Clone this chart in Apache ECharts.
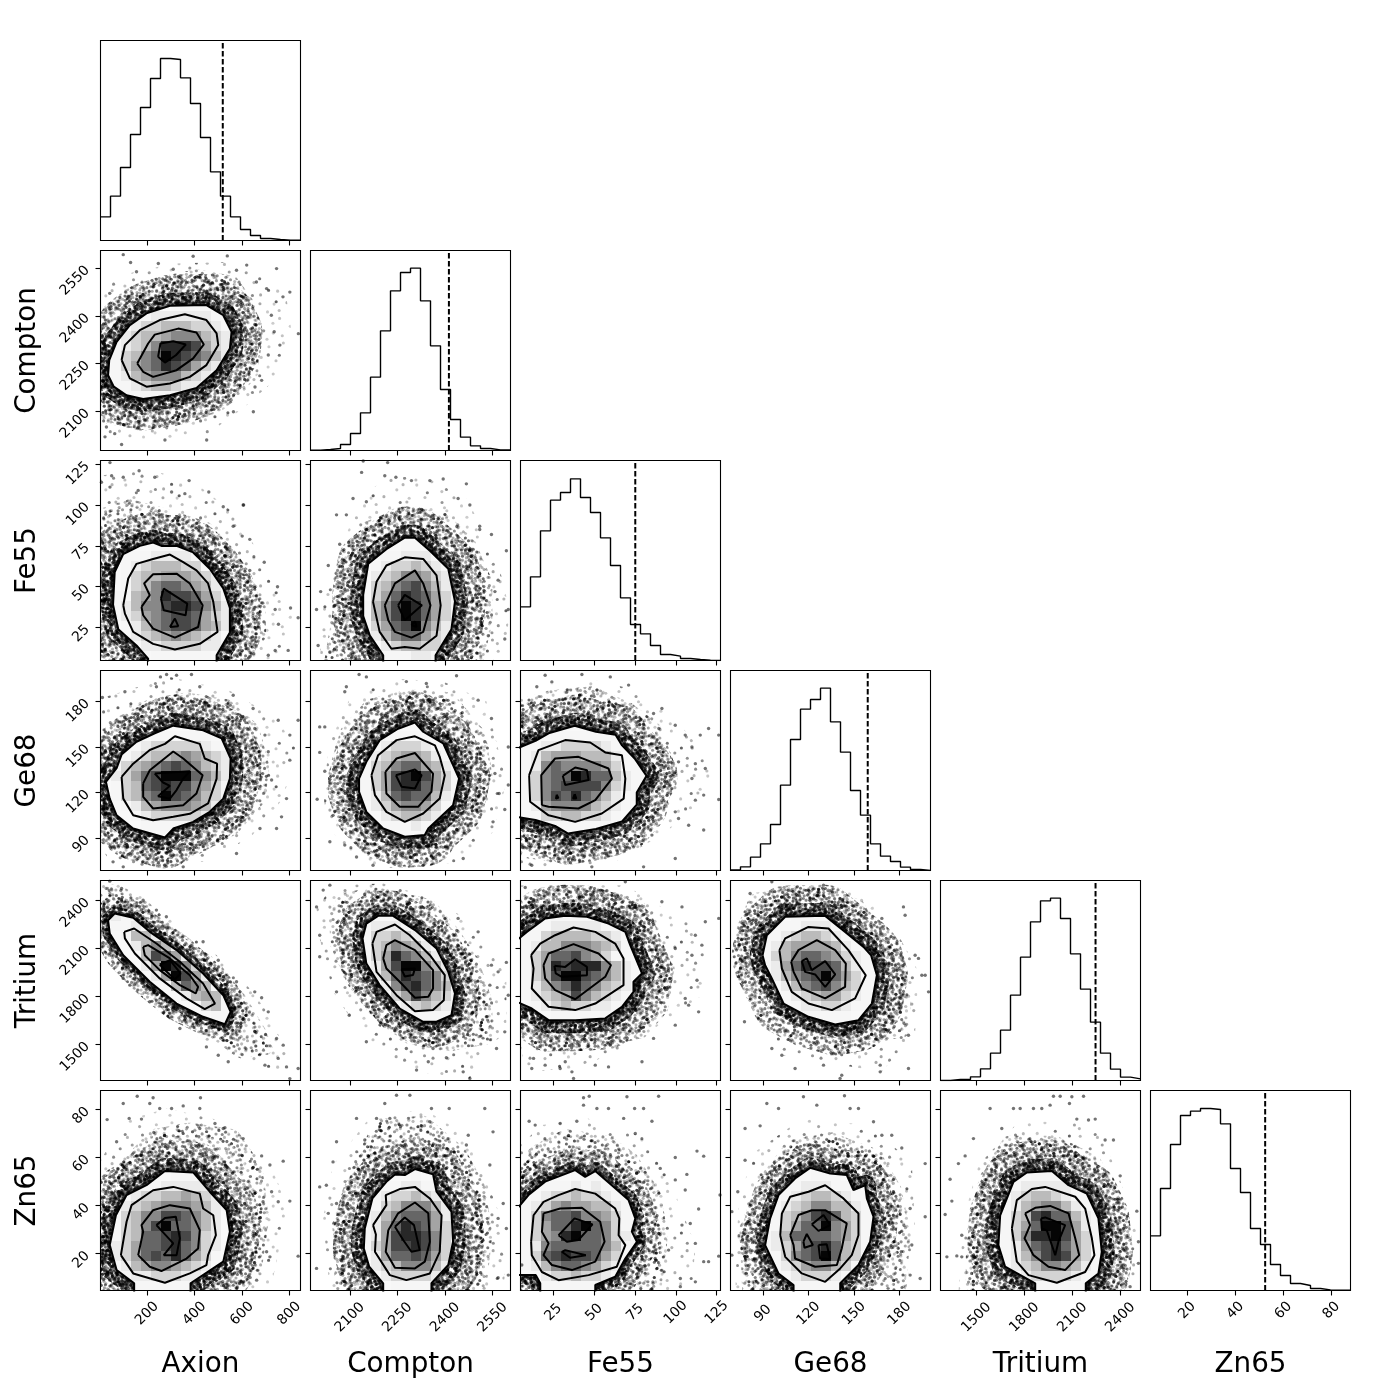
<!DOCTYPE html>
<html><head><meta charset="utf-8">
<script src="https://cdn.jsdelivr.net/npm/echarts@6/dist/echarts.min.js"></script>
<style>html,body{margin:0;padding:0;background:#fff}#c{width:1390px;height:1390px}</style></head>
<body><div id="c"></div>
<script>
const names=['Axion','Compton','Fe55','Ge68','Tritium','Zn65'];
const ranges=[[3,847],[1976,2606],[4.8,127.3],[68.7,200.3],[1275,2525],[4.7,87.9]];
const ticks=[[200,400,600,800],[2100,2250,2400,2550],[25,50,75,100,125],[90,120,150,180],[1500,1800,2100,2400],[20,40,60,80]];
const truths=[519,2412,75.1,159,2244,52.4];
const histAxion=[71,133,219,318,399,486,546,543,488,411,309,206,133,71,33,15,6,3,1,1];
const histCompton=[1,3,6,18,51,113,220,359,479,534,547,449,314,183,93,40,14,6,2,2];
const histFe55=[161,251,389,481,504,545,489,444,368,285,188,108,80,45,18,13,6,3,1,0];
const histGe68=[2,11,40,80,138,256,393,484,513,547,446,355,240,166,80,43,27,10,3,0];
const histTritium=[0,3,3,11,35,82,151,256,370,476,539,547,486,380,274,175,82,34,10,5];
const histZn65=[164,306,438,525,538,546,543,500,366,294,186,138,78,45,21,15,6,2,1,1];
const hists=[histAxion,histCompton,histFe55,histGe68,histTritium,histZn65];

// Axion vs Compton
const AC_lines=[
[[40,2261],[71,2318],[127,2371],[197,2408],[296,2432],[450,2434],[521,2402],[556,2350],[549,2297],[493,2229],[408,2173],[296,2150],[183,2138],[113,2150],[59,2177],[35,2213]],
[[92,2261],[106,2308],[169,2355],[253,2387],[359,2405],[450,2387],[493,2345],[500,2308],[450,2245],[380,2208],[296,2187],[197,2177],[127,2203]],
[[158,2250],[204,2313],[232,2341],[331,2360],[408,2348],[439,2310],[394,2266],[324,2229],[225,2208],[183,2224]],
[[246,2271],[256,2313],[310,2320],[363,2310],[321,2276],[275,2253]]];
const AC_cells="5 7 0000;6 3 0011111100;7 2 01223332210;8 2 123345553210;9 1 012358887421;10 1 0235698765310;11 1 02456876421;12 1 0134555321;13 1 0012332110;14 2 000000";
const AC_cloud=[[3,2397],[99,2450],[239,2502],[406,2528],[560,2507],[631,2434],[645,2308],[645,2224],[575,2161],[505,2119],[352,2077],[183,2056],[42,2077],[3,2108]];
const AC_halo=[[3,2486],[127,2534],[310,2565],[549,2570],[704,2528],[788,2455],[816,2318],[715,2182],[603,2108],[448,2024],[211,2003],[42,2019],[3,2045]];
const AC_dots=[[99,2593],[247,2565],[394,2588],[538,2589],[746,2549],[802,2475],[838,2344],[724,2402],[760,2308],[711,2277],[683,2197],[655,2176],[648,2098],[564,2098],[451,2009],[275,2009],[92,1995],[28,2050],[22,2019],[63,2029],[155,2539],[130,2568],[310,2547],[577,2544],[661,2507],[42,2471],[704,2486],[620,2560],[773,2460],[736,2350]];
// Axion vs Fe55
const AF_lines=[
[[204,3],[204,6],[155,14],[78,24],[56,39],[63,59],[99,70],[169,75],[225,77],[260,75],[324,75],[394,71],[464,61],[521,49],[549,37],[549,22],[493,8],[493,3]],
[[99,38.6],[120,55],[155,64],[225,67],[296,69.7],[352,65],[408,60],[457,52],[479,40.7],[497,22.3],[422,15],[317,11.5],[225,15],[141,22.3],[106,33.5]],
[[176,37.6],[211,44.8],[187,52],[225,57.6],[324,58],[380,52],[434,38.6],[415,25.3],[317,18.8],[225,24.3],[183,32.5]],
[[258,42.7],[270,48.8],[369,39.6],[362,32.5],[270,35.6]],
[[296,25.3],[317,30.5],[331,25.8]]];
const AF_cells="8 5 0000;9 2 000111100;10 2 012333220;11 2 0233444321;12 2 02356654310;13 1 00345877642 0;14 1 01355788753 1;15 1 0124567764 21;16 2 0135677643 1;17 2 0123454321;18 3 0112222110;19 5 000000";
const AF_cloud=[[3,94],[127,100],[281,94],[450,86],[549,69],[633,53],[676,37],[676,20],[619,8],[560,3],[3,3]];
const AF_halo=[[3,118],[169,122],[380,116],[577,94],[661,73],[746,49],[816,32],[774,8],[647,3],[3,3]];
const AF_dots=[[43,126],[50,118],[166,121],[232,117],[377,115],[460,108],[359,107],[607,100],[521,99],[563,87],[601,81],[633,79],[694,65],[633,60],[750,50],[687,40],[805,37],[740,36],[837,31],[754,27],[795,11],[711,8],[740,11],[99,117],[43,111],[162,109],[303,108],[605,100],[7,114],[661,30]];
// Compton vs Fe55
const CF_lines=[
[[2205,3],[2205,8],[2163,20],[2142,32],[2142,45],[2158,64],[2215,73],[2273,80],[2305,80],[2352,72],[2410,61],[2431,41],[2420,24],[2370,8],[2370,3]],
[[2173,40.7],[2184,53],[2215,63],[2273,68],[2331,67],[2373,57],[2386,38.6],[2373,20],[2320,12],[2273,13],[2231,12],[2194,22.3]],
[[2210,38.6],[2242,52],[2305,60],[2331,52],[2354,38.6],[2331,22.3],[2294,18.8],[2242,22.3],[2221,29.4]],
[[2252,38.6],[2273,45],[2327,38.6],[2273,29.4]],
[[2294,26.4],[2305,28.8],[2310,25.4]]];
const CF_cells="8 9 00;9 7 0011100;10 6 012232100;11 6 123554210;12 6 235675310;13 6 246876420;14 5 0357986420;15 5 0357986420;16 5 0246795310;17 6 13566421;18 7 12332210;19 7 00011000";
const CF_cloud=[[2037,3],[2063,32],[2079,63],[2152,86],[2278,96],[2394,92],[2478,76],[2530,53],[2530,28],[2499,3]];
const CF_halo=[[2005,3],[2016,41],[2068,73],[2142,106],[2226,118],[2352,116],[2467,104],[2562,69],[2604,35],[2583,3]];
const CF_dots=[[2142,127],[2219,126],[2137,120],[2210,118],[2245,117],[2294,115],[2352,115],[2467,113],[2441,104],[2110,104],[2058,94],[2509,87],[2546,82],[2068,76],[2593,72],[2032,63],[2008,47],[1995,36],[2567,54],[2557,47],[2599,36],[2588,18],[2536,20],[2037,10],[2000,14],[2478,100],[2152,102],[2509,85],[2394,116],[2089,94]];
// Axion vs Ge68
const AG_lines=[
[[26,127],[71,136],[92,145],[155,153.4],[232,159],[310,164],[436,161],[514,155.6],[552,142.4],[549,129.2],[521,116],[464,107.3],[394,100.7],[310,96.3],[275,90.4],[141,96.3],[71,105],[42,116]],
[[92,130.3],[141,139],[211,148],[275,152],[317,157],[422,152],[443,142.4],[495,139],[493,129.2],[457,112.8],[380,106],[310,104],[225,101.8],[141,105],[99,116]],
[[183,126],[211,134.7],[310,147],[352,142.4],[434,131.4],[408,119.4],[352,111.7],[225,109.5],[183,117.2]],
[[232,132.5],[380,134],[352,129.2],[324,121.6],[296,116],[246,117.6],[296,124.4],[267,126.6]]];
const AG_cells="6 5 000000;7 2 00122222100;8 2 012334543210;9 1 023456765321;10 1 124679996531;11 1 023678775420;12 1 023569765320;13 2 01345554310;14 3 012222210;15 4 0000000";
const AG_cloud=[[3,147],[99,167],[211,177.5],[366,182],[535,177.5],[647,162],[689,138],[675,116],[563,96],[408,83],[211,78.5],[71,85],[3,98.5]];
const AG_halo=[[3,182],[141,188.5],[296,196],[549,187],[746,168.7],[830,148.7],[774,116],[633,90],[436,74.6],[211,70],[42,74.5],[3,85]];
const AG_dots=[[282,197.7],[324,197.2],[256,196.1],[387,197.7],[11,182.5],[106,186.3],[239,189.6],[422,189.6],[563,184],[647,175.3],[753,167.6],[837,167.6],[802,157.8],[711,146.8],[802,141.3],[725,128.2],[788,116],[767,104],[746,96.3],[577,79.9],[99,71.1],[275,72.2],[352,71.1],[183,74.4],[697,157.8],[56,74.4],[647,116],[676,96.3]];
// Compton vs Ge68
const CG_lines=[
[[2129,129.2],[2152,140.2],[2194,154.5],[2252,162],[2305,166],[2331,160],[2394,152.3],[2425,138],[2444,129.2],[2425,111.7],[2347,96.3],[2336,92],[2273,90.9],[2205,96.3],[2152,107.3],[2129,120.5]],
[[2168,131.4],[2189,144.6],[2247,154.5],[2305,157],[2368,151],[2383,143.5],[2399,131.4],[2383,116],[2331,106.2],[2273,100.7],[2215,107.3],[2179,118.3]],
[[2212,133.6],[2247,142.4],[2305,146],[2362,132.5],[2357,120.5],[2315,110.6],[2257,110.6],[2215,119.4]],
[[2245,131.4],[2305,135.2],[2326,131.4],[2305,122.7],[2263,123.8]]];
const CG_cells="6 7 00000;7 6 012221000;8 6 12344310;9 5 0235664310;10 5 02478974200;11 5 02478864200;12 5 01367663100;13 6 12455420;14 7 123321;15 7 000100";
const CG_cloud=[[2058,138],[2089,160],[2163,177.5],[2289,184],[2415,182],[2509,158],[2530,131.4],[2488,105],[2404,85.4],[2278,75.5],[2163,81],[2089,100.7]];
const CG_halo=[[2016,120.5],[2037,153.4],[2100,182],[2226,195],[2394,193],[2530,180],[2593,127],[2551,94],[2436,74],[2205,70],[2089,81],[2026,100.7]];
const CG_dots=[[2129,197.7],[2152,196.1],[2089,189.6],[2084,186.3],[2278,193],[2436,196.8],[2005,163.2],[2021,163.2],[2341,191.7],[2504,180.8],[2525,153.4],[2546,168.7],[2599,150],[2005,146.4],[2021,134],[2557,132.5],[2599,125],[1997,115.6],[2047,105],[2570,119.4],[2588,108.8],[2037,87.6],[2084,85.4],[2121,77.6],[2173,72.2],[2331,72.2],[2457,76.6],[2551,100.7]];
// Fe55 vs Ge68
const FG_lines=[
[[2.6,149],[14,154],[22,159],[38,164],[51,160],[63,158],[67,151],[75,142],[82,131],[76,120],[76,112],[67,101],[51,96],[34,93],[26,98],[14,102],[2.6,104]],
[[10.1,131.4],[15.8,147.9],[32.2,154.5],[47.5,152.9],[56.7,146.4],[66.9,144.6],[69,129.2],[68,116],[54.6,106.2],[38.3,100.7],[22,105],[10.7,113.9]],
[[17.9,111.7],[17.5,131.4],[26,142.4],[40.3,143.5],[58.7,135.8],[60.8,129.2],[50.6,115],[40.3,109.5],[22,110.6]],
[[30.7,131],[38.3,136.5],[45.5,134.7],[46.5,128.2],[32.2,124.9]],
[[27,118.5],[28,116.5],[26.5,116]],[[38,119],[39,116],[37,116]]];
const FG_cells="6 3 0000000;7 0 00112222100;8 0 013444333100;9 0 015655554200 0;10 0 0256698663100;11 0 025677775210;12 0 025768653100;13 0 01455553210;14 0 0022332210;15 3 000000";
const FG_cloud=[[4.8,177.5],[22,183],[48.8,186],[71,175.3],[87.2,162],[95.5,138],[93.4,116],[79,96.3],[58.7,83],[28,77.7],[7.7,81],[4.8,85.4]];
const FG_halo=[[4.8,184],[22,190.6],[46.5,195],[71,188.7],[93.4,175.3],[109.8,155.6],[124,131.4],[111.8,109.5],[91.4,92],[62.8,74.4],[26,70],[4.8,72]];
const FG_dots=[[19.9,197.2],[42.4,197.7],[59.8,196.1],[24,192.8],[14.8,189.6],[71,190.7],[51.6,187.4],[86.3,172],[91.4,175.3],[99.6,164.3],[105.7,157.8],[114.9,157.8],[120,162.1],[126.2,157.8],[109.8,150],[111.9,139],[101.6,140.2],[118,135.8],[109.8,129.2],[117,118.3],[126.2,115.4],[111.9,115],[99.6,107.3],[101.6,102.9],[117,95.3],[107.8,98.5],[99.6,76.6],[80.2,71.1],[48.5,71.1],[19.9,78.8],[11.7,72.2],[85.3,92]];
// Axion vs Tritium
const AT_lines=[
[[35,2277],[63,2319],[141,2292],[211,2204],[324,2090],[436,1944],[521,1808],[552,1704],[528,1627],[436,1673],[324,1756],[211,1892],[99,2058],[42,2194]],
[[103,2204],[145,2225],[239,2131],[338,2017],[436,1881],[486,1756],[443,1721],[366,1788],[253,1913],[148,2069],[106,2163]],
[[183,2110],[204,2121],[296,2038],[380,1933],[415,1860],[405,1819],[338,1871],[253,1965],[190,2058]],
[[253,2000],[296,2027],[341,1944],[317,1906],[275,1965]]];
const AT_cells="3 0 0100;4 1 0010;5 2 0331;6 3 13531;7 4 37641;8 4 149852;9 5 149741;10 7 36530;11 8 13430;12 9 0230;13 11 00";
const AT_cloud=[[3,2475],[85,2454],[183,2371],[338,2142],[479,1996],[591,1788],[676,1579],[704,1475],[591,1454],[479,1579],[310,1704],[155,1933],[3,2163]];
const AT_halo=[[3,2525],[113,2506],[281,2308],[436,2142],[633,1850],[717,1683],[816,1350],[844,1275],[717,1329],[565,1433],[338,1600],[141,1850],[3,2079]];
const AT_dots=[[42,2521],[92,2475],[239,2340],[436,2142],[500,2027],[654,1829],[683,1792],[711,1704],[619,1683],[746,1538],[774,1496],[788,1360],[837,1350],[802,1287],[697,1371],[542,1392],[500,1433],[450,1485],[338,1600],[211,1767],[127,1871],[99,1913],[281,2298],[183,2402],[577,1892],[753,1413]];
// Compton vs Tritium
const CT_lines=[
[[2140,2163],[2152,2256],[2189,2304],[2236,2304],[2305,2215],[2373,2100],[2410,1954],[2431,1819],[2420,1683],[2373,1642],[2331,1642],[2257,1725],[2194,1871],[2152,2006]],
[[2171,2131],[2184,2204],[2242,2250],[2289,2183],[2352,2058],[2399,1933],[2396,1777],[2362,1715],[2305,1708],[2247,1808],[2184,1954]],
[[2205,2038],[2215,2121],[2242,2152],[2305,2090],[2362,1965],[2362,1850],[2347,1798],[2305,1792],[2257,1892],[2215,1975]],
[[2263,1970],[2305,1975],[2299,1935],[2273,1925]]];
const CT_cells="3 6 000;4 5 011100;5 5 0223210;6 5 02354310;7 5 024865310;8 5 0147995310;9 6 1368765200;10 7 15786530;11 7 02475320;12 8 0123210;13 10 0000";
const CT_cloud=[[2053,2287],[2079,2412],[2184,2444],[2352,2371],[2425,2204],[2488,2017],[2530,1767],[2530,1538],[2415,1496],[2289,1538],[2205,1642],[2110,1892],[2058,2121]];
const CT_halo=[[1995,2350],[2047,2496],[2205,2506],[2331,2433],[2467,2287],[2593,1933],[2593,1579],[2520,1454],[2478,1288],[2310,1329],[2152,1517],[2047,1829],[2005,2163]];
const CT_dots=[[2016,2465],[2037,2496],[1995,2360],[2005,2183],[2005,2048],[2058,1829],[2098,1683],[2152,1517],[2504,2204],[2457,2069],[2546,1996],[2567,1954],[2593,2013],[2599,1808],[2588,1579],[2562,1475],[2530,1673],[2478,1288],[2310,1340],[2347,1392],[2404,1417],[2457,1329],[2362,1475],[2278,1475],[2441,2288],[2541,1871]];
// Fe55 vs Tritium
const FT_lines=[
[[2.6,2152],[8.7,2204],[19.9,2288],[32.2,2304],[45.5,2298],[58.7,2256],[69,2204],[72,2121],[79.2,1944],[74,1892],[74,1829],[66.9,1736],[56.7,1663],[38.3,1652],[22,1652],[11.7,1725],[2.6,1767]],
[[11.3,2058],[16.9,2131],[26,2183],[37.3,2231],[50.6,2204],[62.8,2131],[67.9,2038],[67.9,1871],[50.6,1756],[38.3,1715],[22,1736],[11.7,1850],[12.8,1975]],
[[18.9,1996],[22,2069],[37.3,2127],[52.6,2069],[60.2,1996],[56.7,1923],[38.3,1783],[26,1840],[19.9,1913]],
[[25.6,1992],[32.2,1985],[38.3,2033],[45.5,1985],[45.5,1933],[30.1,1923],[26.4,1944]]];
const FT_cells="3 3 0000;4 1 001111100 0;5 0 00233332210;6 0 01335554320;7 0 024667542 0 0;8 0 024878885310;9 0 0247997653100;10 0 013568653210;11 0 01234753210;12 1 01232211 00;13 3 000000";
const FT_cloud=[[4.8,2371],[22,2444],[52.6,2444],[77.1,2371],[85.2,2142],[95.5,1975],[91.4,1725],[79.2,1579],[54.6,1517],[28.1,1496],[4.8,1642]];
const FT_halo=[[4.8,2496],[19.9,2496],[69,2496],[87.2,2381],[107.8,2267],[118,2100],[116,1808],[89.4,1621],[71,1475],[36.3,1350],[7.7,1329],[4.8,1517]];
const FT_dots=[[7.7,2481],[57.7,2461],[69,2517],[91.4,2392],[103.7,2360],[118,2267],[126.2,2288],[115.9,2121],[111.9,2183],[99.6,2100],[109.8,2058],[105.7,1788],[107.8,1746],[113.9,1704],[99.6,1621],[19.9,1465],[12.8,1413],[11.7,1350],[19.9,1371],[37.3,1288],[50.6,1371],[59.8,1496],[36.3,1329],[58.7,1360],[79.2,1392],[29.1,1350],[32.2,1392],[86.3,1538],[112.9,1902]];
// Ge68 vs Tritium
const GT_lines=[
[[89.8,2058],[92.6,2183],[104.7,2298],[131,2304],[144.1,2204],[156.2,2110],[161.2,2058],[165,1933],[161.7,1756],[152.9,1652],[137.6,1625],[120,1673],[103.6,1756],[95.9,1913],[91.5,1996]],
[[100.9,2090],[104.7,2163],[120,2235],[133.2,2225],[146.3,2090],[157.7,1933],[150.7,1788],[135.4,1715],[120,1756],[109,1829],[102.5,1975]],
[[108.6,2017],[113.4,2090],[125.5,2152],[137.6,2090],[144.6,2006],[144.1,1860],[131,1788],[115.6,1850],[110.2,1954]],
[[115.6,2021],[118.9,2038],[122.2,1965],[131,2021],[137.6,1938],[131,1860],[124.4,1938],[117.8,1954]]];
const GT_cells="3 6 0000;4 4 00011100 ;5 3 00123321 00;6 3 01344443 100;7 3 02356654 210;8 3 01468776 310;9 4 1356796 42 00;10 5 1356753 20;11 5 01234421 0;12 6 011221 00;13 7 00000";
const GT_cloud=[[78.4,2246],[85,2412],[120,2454],[152.9,2371],[161.7,2204],[179.2,2038],[183.6,1767],[181.4,1579],[146.3,1538],[115.6,1642],[93.7,1808],[80.5,2017]];
const GT_halo=[[72.9,2142],[80.5,2433],[115.6,2506],[157.3,2433],[179.2,2183],[192.4,1954],[190.2,1579],[168.3,1329],[102.5,1433],[89.3,1662],[74,1892]];
const GT_dots=[[81.6,2444],[95.9,2517],[78.4,2329],[74.4,2121],[74.4,1954],[77.9,1642],[95.9,1475],[102.5,1433],[111.2,1350],[129.9,1371],[141.9,1308],[167.2,1329],[167.2,1371],[185.8,1350],[185.8,1558],[194.6,1933],[196.8,1933],[199,1829],[190.2,2058],[183.6,2308],[182.5,2360],[168.3,2288],[140.8,1288],[192.4,2038],[129.9,2496]];
// Axion vs Zn65
const AZ_lines=[
[[145,3.5],[145,7.7],[71,13.2],[42,23.6],[68,36],[113,44.4],[197,48.5],[275,54.4],[394,53.8],[464,45.8],[535,38.2],[549,29.2],[521,16.7],[383,7.7],[383,3.5]],
[[89,19.4],[113,33.3],[134,40.2],[225,46.4],[310,47.8],[422,45],[436,38.8],[479,36],[490,27.7],[457,19.4],[450,15.3],[380,11.8],[275,7.9],[141,11.8]],
[[162,19.4],[183,29.1],[176,31.9],[225,38.1],[296,40.2],[380,38.8],[422,29.8],[415,22.2],[366,18],[260,12.8],[211,14.6]],
[[239,31.9],[275,34.9],[321,35.4],[338,26.4],[324,19.4],[270,19.4],[310,24.3]]];
const AZ_cells="8 7 000;9 4 00111110;10 2 0122334321 0;11 1 01234555431 0;12 1 02355776531;13 1 0235796653 1;14 1 02366787521;15 0 012466786521;16 1 12467686420;17 1 0134554321;18 2 011222110;19 3 000000";
const AZ_cloud=[[3,47.2],[113,56.9],[225,69.3],[380,72],[563,69.3],[661,55.4],[689,34.7],[661,15.3],[577,3.5],[3,3.5]];
const AZ_halo=[[3,58.2],[85,74.8],[281,80.4],[478,76.2],[619,68],[746,51.3],[802,34.7],[760,23.6],[718,3.5],[3,3.5]];
const AZ_dots=[[158,85.5],[225,84.9],[253,80.4],[211,82.5],[303,80.4],[352,81.5],[422,80.4],[425,84.9],[99,82.5],[31,75.8],[124,76.3],[176,76],[422,72.1],[486,74.2],[528,72.4],[605,67.9],[683,60.7],[718,56.9],[774,58.5],[725,45.8],[753,41.6],[802,41.9],[837,19],[718,18.7],[662,9],[619,18],[71,66.6],[689,41.6],[521,72.1],[704,20.8]];
// Compton vs Zn65
const CZ_lines=[
[[2205,3.5],[2205,7.7],[2161,14.6],[2144,22.2],[2147,30.5],[2171,43],[2215,49.9],[2242,53],[2273,52.7],[2305,55.2],[2362,53],[2373,45.8],[2420,37.5],[2425,25],[2410,15.3],[2357,7.7],[2357,3.5]],
[[2173,31.9],[2215,40.2],[2213,44.4],[2257,46.9],[2305,47.8],[2352,43],[2389,36],[2383,20.8],[2352,11.8],[2278,9],[2226,11.1],[2179,20.8],[2182,28]],
[[2221,29.8],[2252,36.8],[2305,41.3],[2347,36.8],[2352,25],[2336,16.7],[2305,13.9],[2242,14.2],[2213,20.8]],
[[2242,31.2],[2273,35.1],[2302,31.9],[2320,21.5],[2294,20.8],[2268,25.7]]];
const CZ_cells="8 10 0;9 7 001100 0;10 6 01223 2 10;11 6 0235553 1;12 5 01356664 10;13 5 0146876 4 20;14 5 0147887 5 20;15 5 0247787 5 20;16 5 0146676 4 2;17 6 1235553 1;18 6 012222 1;19 8 0000";
const CZ_cloud=[[2074,3.5],[2063,31.9],[2121,55.4],[2194,73.5],[2331,74.9],[2446,62.4],[2509,47.2],[2530,27.7],[2509,3.5]];
const CZ_halo=[[2037,3.5],[2016,34.7],[2047,56.8],[2152,74.9],[2331,80.4],[2467,69.3],[2562,40.2],[2593,19.4],[2583,3.5]];
const CZ_dots=[[2210,82.5],[2247,85.9],[2289,85.9],[2357,80.4],[2413,80.4],[2525,80.4],[2121,76.3],[2184,76.3],[2047,58.2],[2058,66.6],[2147,67.3],[2473,69.3],[2541,56.9],[2005,47.8],[2026,48.5],[2032,36.8],[2058,40.9],[2567,34.7],[2593,30.5],[1995,13.9],[2567,10],[2599,11.1],[2551,70.7],[2467,65.2],[2583,40.9],[2352,74.9],[2226,76.3]];
// Fe55 vs Zn65
const FZ_lines=[
[[2.6,38.6],[9.7,44.4],[19.9,50],[38.3,54.8],[44.4,52],[50.6,54.4],[62.8,47.2],[71,42.3],[75.1,34.7],[73,29.2],[76.1,25],[69,18],[62.8,10.4],[50.6,7],[50.6,3.5],[16.9,3.5],[16.9,7.7],[14.2,11.1],[2.6,11.1]],
[[11.3,25],[12.8,36],[18.9,41.6],[28.1,44.4],[38.3,46.9],[50.6,45],[62.8,38.8],[65.3,34.7],[64.9,27.7],[69,23.6],[63.8,14.6],[46.5,11.1],[28.1,9],[17.9,12.4],[11.7,19.4]],
[[18.9,36.8],[29.1,38.8],[42.4,39.1],[53.6,33.3],[56.3,25],[50.6,16.7],[36.3,13.2],[24,15.3],[18.9,19.4],[22,24.3],[17.9,29.1]],
[[28.1,27.7],[37.9,34.7],[48.9,32.2],[40.3,25.7],[33.2,25]],
[[30.1,20.8],[32.2,21.5],[44.8,19.4],[35.2,18.3]]];
const FZ_cells="8 5 000;9 2 00010100;10 1 01223221 00;11 0 012454433 10;12 0 02566755420;13 0 024668965200;14 0 024589665210;15 0 015666665300;16 0 02678776420;17 0 0135665421 0;18 2 122322 10;19 2 0000000";
const FZ_cloud=[[4.8,55.5],[13.8,62.4],[32.2,69.3],[58.7,66.5],[73,59.6],[87.2,44.4],[91.4,27.7],[87.2,3.5],[4.8,3.5]];
const FZ_halo=[[4.8,65.2],[17.9,73.5],[46.5,76.2],[83.2,67.9],[97.6,48.5],[111.8,23.6],[109.8,3.5],[4.8,3.5]];
const FZ_dots=[[43.4,84.9],[46.9,85.5],[43.4,81.8],[51.6,80.4],[58.7,80.4],[74.7,80.4],[80.2,80.4],[70,85.3],[89.4,85.5],[10.1,75.1],[13.8,73.5],[29.1,74.2],[39.3,75.1],[68,76.3],[85.3,75.1],[75.1,70],[112.9,62.7],[117,60.6],[99.6,60],[106.7,53],[99.6,50.7],[90.4,55.5],[105.7,46.5],[113.9,38.6],[127,44.4],[108.8,32.6],[103.7,31.9],[111.9,24.3],[117,16.7],[126.2,19],[120,16.7],[111.9,8.3],[102.7,9.7],[102.7,6.3],[5.6,15.3],[95.5,21.5],[87.3,18]];
// Ge68 vs Zn65
const GZ_lines=[
[[110.2,3.5],[110.2,7],[100.3,11.8],[91.5,23.6],[94.8,34.7],[100.3,44.4],[111.2,51.3],[121.1,55.7],[134.3,53.4],[145.2,52.7],[149.6,46.5],[157.3,48.5],[158.4,43],[162.8,35.4],[160.6,25],[152.9,15.3],[140.9,7.7],[140.9,3.5]],
[[101.4,27.7],[102.5,36.7],[108,43.7],[120,45.8],[131,48.5],[143,43],[152.9,36.7],[152.9,27.7],[148.5,19.4],[140.9,13.9],[131,8.3],[115.6,11.8],[104.7,18.7]],
[[108,27.7],[113.4,36.1],[122.2,38.1],[131,38.1],[145.2,32.6],[141.9,22.2],[138.7,15.3],[124.4,14.6],[111.2,18],[110.2,23.6]],
[[122.2,32.2],[129.9,36.1],[134.3,31.9],[126.6,29.5]],
[[126.6,23.6],[132,23.9],[134.3,17.8],[127.7,18]],
[[116.7,25],[118.9,28.2],[122.9,23.6],[117.4,22.5]]];
const GZ_cells="8 8 000;9 5 00111000;10 5 012332100;11 4 012355331 0;12 4 0235786320;13 4 0246695 420;14 3 01366665420;15 3 01246786320;16 4 0256796320;17 4 012455320;18 5 012221 0;19 6 00000";
const GZ_cloud=[[80.5,3.5],[78.4,30.5],[93.7,52.7],[109,65],[135.4,67.9],[163.9,61],[177,47.2],[183.6,27.7],[179.2,3.5]];
const GZ_halo=[[71.8,3.5],[74,43],[84.9,62.4],[115.6,76.2],[159.5,73.5],[188,58.2],[190.2,27.7],[183.6,3.5]];
const GZ_dots=[[92.6,82.5],[100.3,80.4],[116.7,85.3],[125.5,81.8],[143.7,85.7],[147.4,80.4],[152.9,80.4],[88.2,73.2],[78.3,72.1],[78.3,58.9],[174.8,69.3],[181.4,64],[196.8,57.5],[73.5,45.8],[69.6,37.5],[186.9,38.8],[196.8,35.4],[78.3,18.7],[188,23.6],[193.5,9.7],[69.6,19.4],[162.8,74.9],[168.3,69.3],[186.9,11.1]];
// Tritium vs Zn65
const TZ_lines=[
[[1867,3.5],[1867,7.7],[1679,14.6],[1637,23.6],[1648,36],[1731,49.9],[1815,53.8],[1971,54.4],[2075,48.5],[2189,45],[2262,34.7],[2283,20.8],[2262,11.8],[2183,7.7],[2183,3.5]],
[[1721,30.5],[1752,42.3],[1846,46.9],[1929,47.8],[2117,43.7],[2179,38.8],[2221,26.4],[2237,19.4],[2179,12.4],[2002,7.9],[1825,11.1],[1752,16.7]],
[[1804,36.8],[1867,39.1],[1960,39.9],[2075,36.8],[2117,26.4],[2142,19.4],[2054,13.2],[1950,14.6],[1856,19.4],[1800,26.4],[1835,31.9]],
[[1904,34.7],[1929,35.1],[2054,31.9],[2012,25],[1992,19.4],[1960,25.7],[1940,29.6],[1908,30.5]]];
const TZ_cells="8 9 000;9 7 0111110 0;10 7 1233 21 00;11 6 0134553 10;12 6 02378663 10;13 6 02469974 10;14 6 02588974 20;15 6 01467864 20;16 6 01357874 20;17 7 1235543 10;18 8 1222 21 00;19 9 000000";
const TZ_cloud=[[1471,3.5],[1471,27.7],[1554,51.3],[1700,66.6],[1992,66.6],[2242,58.2],[2367,41.6],[2408,20.8],[2408,3.5]];
const TZ_halo=[[1387,3.5],[1419,34.7],[1512,56.8],[1762,74.9],[2242,74.9],[2387,52.7],[2512,26.4],[2512,3.5]];
const TZ_dots=[[1585,80.4],[1731,80.4],[1773,80.4],[1856,80.4],[1908,80.4],[1960,81.8],[1981,85.5],[2023,85.5],[2096,85.3],[2169,85.5],[2081,82.5],[2127,76],[2242,76],[2200,75.6],[2304,67.3],[2356,67.3],[1429,60.7],[1481,67.9],[1387,57.5],[1335,51],[1346,41.9],[1304,36.3],[2502,37.7],[2512,25],[1315,18.7],[1408,18.7],[1377,19.1],[2512,16],[2460,6.3],[1408,27.7],[2398,52.4],[1658,72.1]];

const panels=[
[1,0,AC_lines,AC_cells,AC_cloud,AC_halo,AC_dots],
[2,0,AF_lines,AF_cells,AF_cloud,AF_halo,AF_dots],[2,1,CF_lines,CF_cells,CF_cloud,CF_halo,CF_dots],
[3,0,AG_lines,AG_cells,AG_cloud,AG_halo,AG_dots],[3,1,CG_lines,CG_cells,CG_cloud,CG_halo,CG_dots],[3,2,FG_lines,FG_cells,FG_cloud,FG_halo,FG_dots],
[4,0,AT_lines,AT_cells,AT_cloud,AT_halo,AT_dots],[4,1,CT_lines,CT_cells,CT_cloud,CT_halo,CT_dots],[4,2,FT_lines,FT_cells,FT_cloud,FT_halo,FT_dots],[4,3,GT_lines,GT_cells,GT_cloud,GT_halo,GT_dots],
[5,0,AZ_lines,AZ_cells,AZ_cloud,AZ_halo,AZ_dots],[5,1,CZ_lines,CZ_cells,CZ_cloud,CZ_halo,CZ_dots],[5,2,FZ_lines,FZ_cells,FZ_cloud,FZ_halo,FZ_dots],[5,3,GZ_lines,GZ_cells,GZ_cloud,GZ_halo,GZ_dots],[5,4,TZ_lines,TZ_cells,TZ_cloud,TZ_halo,TZ_dots]];

// Speckle textures: a fill style for the crowded parts of each cloud, not chart data.
function tile(size,count,aLo,aHi,phase){
  const cv=document.createElement('canvas');cv.width=cv.height=size;
  const g=cv.getContext('2d');
  for(let k=1;k<=count;k++){
    const jx=Math.sin(k*12.9898+phase)*43758.5453,jy=Math.sin(k*78.233+phase)*12543.1234;
    const x=(((k*0.7548776662+(jx-Math.floor(jx))*0.07)%1))*size;
    const y=(((k*0.5698402910+(jy-Math.floor(jy))*0.07)%1))*size;
    const a=aLo+(aHi-aLo)*((jx-Math.floor(jx))*(jy-Math.floor(jy)));
    g.fillStyle='rgba(0,0,0,'+a.toFixed(2)+')';
    for(const dx of [0,-size,size])for(const dy of [0,-size,size]){g.beginPath();g.arc(x+dx,y+dy,1.55,0,7);g.fill();}
  }
  return {image:cv,repeat:'repeat'};
}
const haloFill=tile(97,85,.2,.75,1);
const midFill=tile(101,420,.2,.8,2);
const denseFill=tile(103,1000,.25,.85,3);
const rimFill=tile(107,2100,.4,1,4);
const bandWidths={'4_0':34,'4_1':50,'5_2':44,'5_3':50};

const grays=['#f6f6f6','#ebebeb','#d4d4d4','#bbbbbb','#a4a4a4','#888888','#666666','#484848','#282828','#050505'];
const P=210, L=100.5, T=40.5;
const grids=[],xAxes=[],yAxes=[],series=[],frames=[];
const tf={fontFamily:'DejaVu Sans',color:'#000'};
const labelMargin=[23,27,22,23,27,20];
const plain=v=>String(v);
function addGrid(r,c,diag){
  const i=grids.length;
  grids.push({left:L+P*c,top:T+P*r,width:200,height:200,show:false});
  frames.push({type:'rect',z:1000,silent:true,shape:{x:L+P*c,y:T+P*r,width:200,height:200},style:{fill:null,stroke:'#000',lineWidth:1.1}});
  const bottom=r===5;
  xAxes.push({type:'value',gridIndex:i,min:ranges[c][0],max:ranges[c][1],splitLine:{show:false},axisLine:{show:false},
    axisTick:{show:true,length:5,lineStyle:{color:'#000',width:1.1},customValues:ticks[c]},
    axisLabel:{show:bottom,customValues:ticks[c],formatter:plain,rotate:45,align:'center',verticalAlign:'middle',margin:labelMargin[c],fontSize:13.9,...tf},
    name:bottom?names[c]:'',nameLocation:'middle',nameGap:60,nameTextStyle:{fontSize:27.8,...tf}});
  const left=c===0&&!diag;
  yAxes.push(diag?{type:'value',gridIndex:i,min:0,max:600,show:false}:{type:'value',gridIndex:i,min:ranges[r][0],max:ranges[r][1],splitLine:{show:false},axisLine:{show:false},
    axisTick:{show:true,length:5,lineStyle:{color:'#000',width:1.1},customValues:ticks[r]},
    axisLabel:{show:left,customValues:ticks[r],formatter:plain,rotate:45,align:'right',verticalAlign:'middle',margin:13,fontSize:13.9,...tf},
    name:left?names[r]:'',nameLocation:'middle',nameGap:59,nameTextStyle:{fontSize:27.8,...tf}});
  return i;
}
function poly(i,pts,style){
  series.push({type:'custom',xAxisIndex:i,yAxisIndex:i,coordinateSystem:'cartesian2d',clip:true,silent:true,animation:false,data:pts,
    renderItem:(p,api)=>p.dataIndex?null:{type:'polygon',shape:{points:pts.map(q=>api.coord(q))},style}});
}
for(let d=0;d<6;d++){
  const i=addGrid(d,d,true);
  const [a,b]=ranges[d],w=(b-a)/20;
  const data=hists[d].map((h,k)=>[a+k*w,h]);data.push([b,hists[d][19]]);
  series.push({type:'line',xAxisIndex:i,yAxisIndex:i,step:'end',data,showSymbol:false,silent:true,animation:false,lineStyle:{color:'#000',width:1.4}});
  series.push({type:'line',xAxisIndex:i,yAxisIndex:i,data:[[truths[d],0],[truths[d],600]],showSymbol:false,silent:true,animation:false,lineStyle:{color:'#000',width:2,type:[5.5,2.5]}});
}
panels.forEach(([r,c,lines,cells,cloud,halo,dots])=>{
  const i=addGrid(r,c,false);
  const outer=lines[0];
  const [xa,xb]=ranges[c],[ya,yb]=ranges[r];
  const bw=(xb-xa)/20,bh=(yb-ya)/20;
  const band=bandWidths[r+'_'+c]||62;
  poly(i,halo,{fill:haloFill});
  series.push({type:'scatter',xAxisIndex:i,yAxisIndex:i,data:dots,symbolSize:3.4,silent:true,animation:false,itemStyle:{color:'#000',opacity:.55}});
  poly(i,cloud,{fill:midFill,stroke:midFill,lineWidth:12,lineJoin:'round'});
  poly(i,outer,{fill:denseFill,stroke:denseFill,lineWidth:band,lineJoin:'round'});
  poly(i,outer,{fill:'rgba(0,0,0,0)',stroke:rimFill,lineWidth:Math.round(band*.42),lineJoin:'round'});
  poly(i,outer,{fill:'rgba(0,0,0,0)',stroke:'rgba(0,0,0,.55)',lineWidth:6,lineJoin:'round'});
  poly(i,outer,{fill:'#f8f8f8'});
  const cellData=[];
  cells.split(';').forEach(rw=>{
    const m=rw.trim().match(/^(\d+) (\d+) (.*)$/);if(!m)return;
    const row=+m[1];let col=+m[2];
    for(const ch of m[3].replace(/ /g,'')){cellData.push([xa+col*bw,yb-row*bh,+ch]);col++;}
  });
  series.push({type:'custom',xAxisIndex:i,yAxisIndex:i,coordinateSystem:'cartesian2d',clip:true,silent:true,animation:false,data:cellData,
    renderItem:(p,api)=>{
      const x=api.value(0),y=api.value(1),d=api.value(2);
      const p1=api.coord([x,y]),p2=api.coord([x+bw,y-bh]);
      const x0=Math.round(p1[0]),y0=Math.round(p1[1]);
      return {type:'rect',shape:{x:x0,y:y0,width:Math.round(p2[0])-x0,height:Math.round(p2[1])-y0},style:{fill:grays[d]},
        clipPath:{type:'polygon',shape:{points:outer.map(q=>api.coord(q))}}};
    }});
  lines.forEach(l=>{
    series.push({type:'line',xAxisIndex:i,yAxisIndex:i,data:l.concat([l[0]]),showSymbol:false,silent:true,animation:false,lineStyle:{color:'#000',width:2}});
  });
});
const chart=echarts.init(document.getElementById('c'),null,{renderer:'canvas'});
chart.setOption({animation:false,backgroundColor:'#fff',grid:grids,xAxis:xAxes,yAxis:yAxes,series,graphic:{elements:frames}});
</script></body></html>
